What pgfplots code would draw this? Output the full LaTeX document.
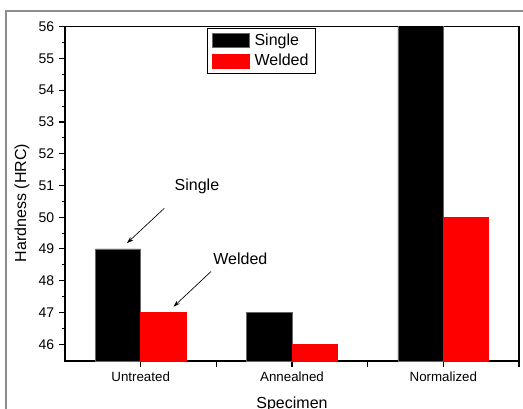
\documentclass[border=0pt]{standalone}
\usepackage{pgfplots}
\pgfplotsset{compat=1.18}
\usepackage{fontspec}
\setmainfont{Liberation Sans}
\usetikzlibrary{arrows.meta}
\begin{document}
\begin{tikzpicture}
\useasboundingbox (0,0) rectangle (392.25pt,306pt);
\draw[black!45, line width=1.5pt] (4.5pt,-20pt) rectangle (420pt,297.75pt);
\begin{axis}[
  at={(48.75pt,35.25pt)}, anchor=south west,
  scale only axis, width=340.5pt, height=250.7pt,
  xmin=-0.5, xmax=2.5, ymin=45.47, ymax=56,
  ybar,
  axis line style={line width=1pt},
  tick style={line width=0.8pt, black},
  tick align=outside, xtick pos=bottom, ytick pos=left,
  major tick length=4.5pt, minor tick length=2.5pt,
  xtick={0,0.5,1,1.5,2,2.5},
  xticklabels={Untreated,{},Annealned,{},Normalized,{}},
  ytick={46,47,48,49,50,51,52,53,54,55,56},
  minor y tick num=1,
  /pgf/number format/assume math mode=true,
  xticklabel style={font=\fontsize{10}{12}\selectfont},
  yticklabel style={font=\fontsize{10.5}{12}\selectfont},
  xlabel={Specimen}, ylabel={Hardness (HRC)},
  label style={font=\fontsize{12}{14}\selectfont},
  xlabel style={at={(axis description cs:0.5,-0.142)}, anchor=base},
  ylabel style={at={(axis description cs:-0.095,0.473)}, anchor=center},
  legend image code/.code={\fill[#1] (0pt,-5.25pt) rectangle (27.75pt,5.25pt);},
  legend style={at={(0.3134,0.996)}, anchor=north west, draw=black, line width=0.6pt,
    font=\fontsize{12}{14}\selectfont, inner xsep=3.5pt, inner ysep=2pt, row sep=1pt,
    column sep=1.5pt},
  legend cell align=left,
]
\addplot[fill=black, draw=black!60, line width=0.4pt, bar width=0.3, bar shift=-0.15]
  coordinates {(0,49) (1,47) (2,58)};
\addlegendentry{Single}
\addplot[fill=red, draw=red, line width=0.4pt, bar width=0.3, bar shift=0.15]
  coordinates {(0,47) (1,46) (2,50)};
\addlegendentry{Welded}
\node[font=\fontsize{12}{14}\selectfont] at (axis cs:0.372,50.96) {Single};
\draw[line width=0.5pt, -{Stealth[length=5pt,width=3.2pt]}] (axis cs:0.156,50.28) -- (axis cs:-0.091,49.18);
\node[font=\fontsize{12}{14}\selectfont] at (axis cs:0.659,48.68) {Welded};
\draw[line width=0.5pt, -{Stealth[length=5pt,width=3.2pt]}] (axis cs:0.465,48.29) -- (axis cs:0.217,47.18);
\end{axis}
\end{tikzpicture}
\end{document}
